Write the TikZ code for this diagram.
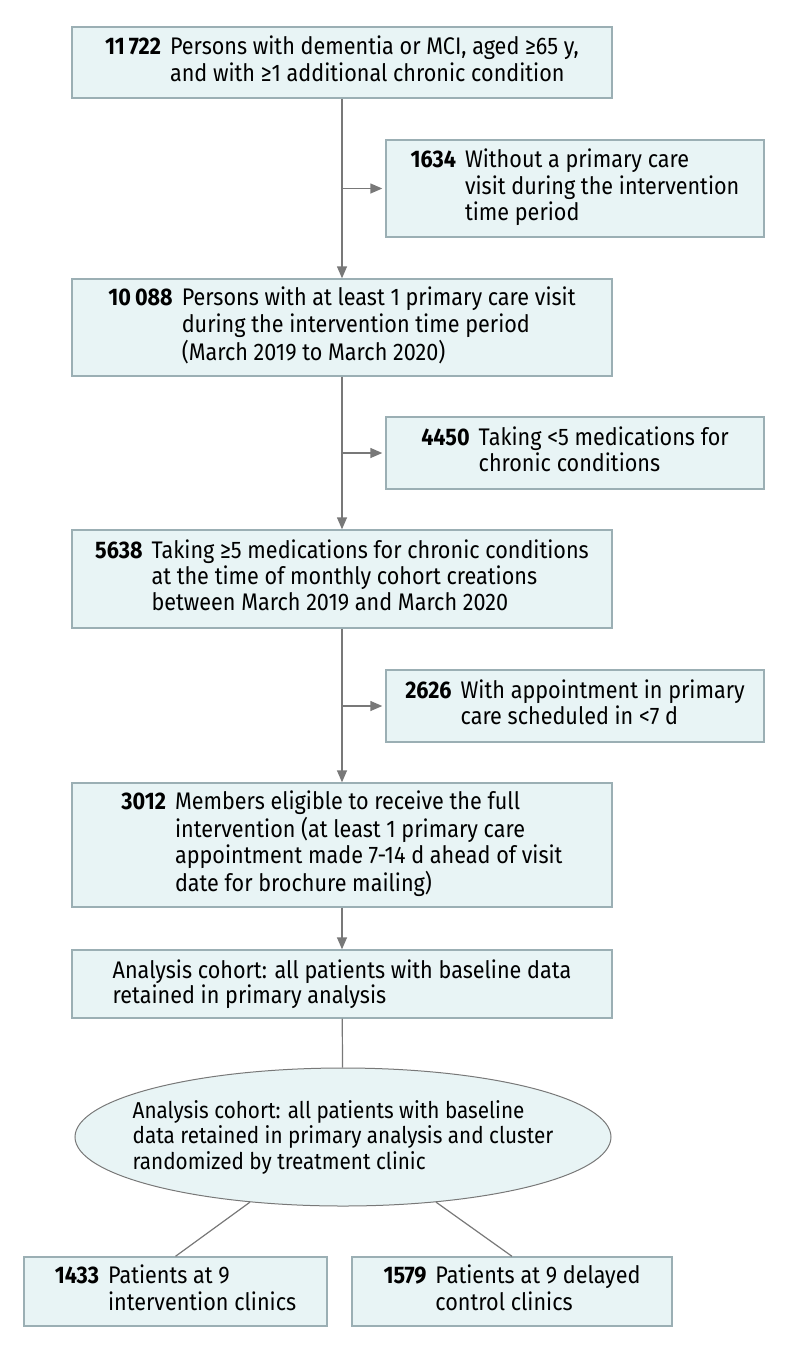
\documentclass[tikz,border=0pt]{standalone}
\usepackage{fontspec}
\setmainfont{Fira Sans}[FakeStretch=0.9]
\usetikzlibrary{arrows.meta, shapes.geometric}
\definecolor{boxfill}{RGB}{232, 244, 245}
\definecolor{boxline}{RGB}{155, 175, 180}
\definecolor{linegray}{RGB}{120, 120, 120}
\newcommand{\flowtext}[1]{\begin{tabular}{@{}r@{\hspace{9pt}}l@{}}#1\end{tabular}}

\begin{document}
\begin{tikzpicture}[
    x=1pt, y=-1pt,
    % Define Styles for the flow chart
    box/.style={
        rectangle, draw=boxline, line width=1.4pt,
        fill=boxfill, inner sep=0pt, align=left,
        font=\fontsize{24}{25.5}\selectfont
    },
    mainbox/.style={box, minimum width=540pt},
    sidebox/.style={box, minimum width=378pt},
    cohort/.style={
        ellipse, draw=linegray, line width=1pt,
        fill=boxfill, inner xsep=-31pt, inner ysep=0pt, align=left,
        minimum width=536pt, minimum height=138pt,
        font=\fontsize{23}{25.5}\selectfont
    },
    arrow/.style={
        -{Triangle[length=12pt, width=10pt]}, line width=1.4pt, draw=linegray
    },
    link/.style={line width=1.2pt, draw=linegray}
]
    \useasboundingbox (0,0) rectangle (794,1350);

    % --- 1. Main column ---

    \node[mainbox, minimum height=71pt] (n11722) at (342, 62.5) {\flowtext{
        \textbf{11\,722} & Persons with dementia or MCI, aged ≥65 y,\\
        & and with ≥1 additional chronic condition}};

    \node[mainbox, minimum height=97pt] (n10088) at (342, 327.5) {\flowtext{
        \textbf{10\,088} & Persons with at least 1 primary care visit\\
        & during the intervention time period\\
        & (March 2019 to March 2020)}};

    \node[mainbox, minimum height=98pt] (n5638) at (342, 579) {\flowtext{
        \textbf{5638} & Taking ≥5 medications for chronic conditions\\
        & at the time of monthly cohort creations\\
        & between March 2019 and March 2020}};

    \node[mainbox, minimum height=124pt] (n3012) at (342, 845) {\flowtext{
        \textbf{3012} & Members eligible to receive the full\\
        & intervention (at least 1 primary care\\
        & appointment made 7-14 d ahead of visit\\
        & date for brochure mailing)}};

    \node[mainbox, minimum height=68pt] (analysis) at (342, 984) {
        Analysis cohort: all patients with baseline data\\
        retained in primary analysis};

    % --- 2. Exclusions (side boxes) ---

    \node[sidebox, minimum height=97pt] (n1634) at (575, 188.5) {\flowtext{
        \textbf{1634} & Without a primary care\\
        & visit during the intervention\\
        & time period}};

    \node[sidebox, minimum height=72pt] (n4450) at (575, 453) {\flowtext{
        \textbf{4450} & Taking <5 medications for\\
        & chronic conditions}};

    \node[sidebox, minimum height=72pt] (n2626) at (575, 706) {\flowtext{
        \textbf{2626} & With appointment in primary\\
        & care scheduled in <7 d}};

    % --- 3. Randomization ---

    \node[cohort] (cohort) at (343, 1137) {
        Analysis cohort: all patients with baseline\\
        data retained in primary analysis and cluster\\
        randomized by treatment clinic};

    \node[box, minimum width=303pt, minimum height=69pt] (n1433) at (175.5, 1291.5) {\flowtext{
        \textbf{1433} & Patients at 9\\
        & intervention clinics}};

    \node[box, minimum width=320pt, minimum height=69pt] (n1579) at (512, 1291.5) {\flowtext{
        \textbf{1579} & Patients at 9 delayed\\
        & control clinics}};

    % --- 4. Connecting arrows ---

    \draw[arrow] (n11722) -- (n10088);
    \draw[arrow, shorten >=3pt] (n11722.south |- n1634.west) -- (n1634.west);

    \draw[arrow] (n10088) -- (n5638);
    \draw[arrow, shorten >=3pt] (n10088.south |- n4450.west) -- (n4450.west);

    \draw[arrow] (n5638) -- (n3012);
    \draw[arrow, shorten >=3pt] (n5638.south |- n2626.west) -- (n2626.west);

    \draw[arrow] (n3012) -- (analysis);
    \draw[link] (analysis) -- (cohort);

    \draw[link] (cohort.215) -- (n1433.north);
    \draw[link] (cohort.325) -- (n1579.north);

\end{tikzpicture}
\end{document}
